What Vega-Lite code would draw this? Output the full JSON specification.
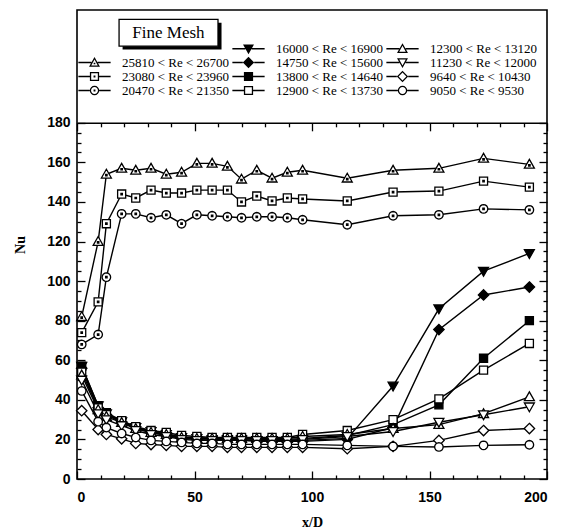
{
"$schema": "https://vega.github.io/schema/vega-lite/v6.json",
"width": 470, "height": 469,
"autosize": {"type": "none"},
"padding": {"left": 77, "top": 10, "right": 27, "bottom": 52},
"background": "white",
"config": {"view": {"stroke": "black", "strokeWidth": 1.6}, "axis": {"grid": false, "domain": false, "tickColor": "black", "tickWidth": 1.3, "labelColor": "black", "titleColor": "black"}},
"data": {"values": [
{"s":"25810 < Re < 26700","x":2,"nu":82},{"s":"25810 < Re < 26700","x":9,"nu":120},{"s":"25810 < Re < 26700","x":12.5,"nu":154},{"s":"25810 < Re < 26700","x":19,"nu":157},{"s":"25810 < Re < 26700","x":25,"nu":156},{"s":"25810 < Re < 26700","x":31.5,"nu":157},{"s":"25810 < Re < 26700","x":38,"nu":154},{"s":"25810 < Re < 26700","x":44.5,"nu":155},{"s":"25810 < Re < 26700","x":51,"nu":159.5},{"s":"25810 < Re < 26700","x":57.5,"nu":159.5},{"s":"25810 < Re < 26700","x":64,"nu":158},{"s":"25810 < Re < 26700","x":70,"nu":151.5},{"s":"25810 < Re < 26700","x":76.5,"nu":156},{"s":"25810 < Re < 26700","x":83,"nu":152},{"s":"25810 < Re < 26700","x":89.5,"nu":155},{"s":"25810 < Re < 26700","x":96,"nu":156},{"s":"25810 < Re < 26700","x":115,"nu":152},{"s":"25810 < Re < 26700","x":134.5,"nu":156},{"s":"25810 < Re < 26700","x":154,"nu":157},{"s":"25810 < Re < 26700","x":173,"nu":162},{"s":"25810 < Re < 26700","x":192.5,"nu":159},
{"s":"23080 < Re < 23960","x":2,"nu":74},{"s":"23080 < Re < 23960","x":9,"nu":89.5},{"s":"23080 < Re < 23960","x":12.5,"nu":129},{"s":"23080 < Re < 23960","x":19,"nu":144},{"s":"23080 < Re < 23960","x":25,"nu":142},{"s":"23080 < Re < 23960","x":31.5,"nu":146},{"s":"23080 < Re < 23960","x":38,"nu":144.5},{"s":"23080 < Re < 23960","x":44.5,"nu":144.5},{"s":"23080 < Re < 23960","x":51,"nu":146},{"s":"23080 < Re < 23960","x":57.5,"nu":146},{"s":"23080 < Re < 23960","x":64,"nu":146},{"s":"23080 < Re < 23960","x":70,"nu":140},{"s":"23080 < Re < 23960","x":76.5,"nu":143},{"s":"23080 < Re < 23960","x":83,"nu":140.5},{"s":"23080 < Re < 23960","x":89.5,"nu":142},{"s":"23080 < Re < 23960","x":96,"nu":141.5},{"s":"23080 < Re < 23960","x":115,"nu":140.5},{"s":"23080 < Re < 23960","x":134.5,"nu":145},{"s":"23080 < Re < 23960","x":154,"nu":145.5},{"s":"23080 < Re < 23960","x":173,"nu":150.5},{"s":"23080 < Re < 23960","x":192.5,"nu":147.5},
{"s":"20470 < Re < 21350","x":2,"nu":68},{"s":"20470 < Re < 21350","x":9,"nu":73},{"s":"20470 < Re < 21350","x":12.5,"nu":102},{"s":"20470 < Re < 21350","x":19,"nu":134},{"s":"20470 < Re < 21350","x":25,"nu":134},{"s":"20470 < Re < 21350","x":31.5,"nu":132},{"s":"20470 < Re < 21350","x":38,"nu":133.5},{"s":"20470 < Re < 21350","x":44.5,"nu":129},{"s":"20470 < Re < 21350","x":51,"nu":133.5},{"s":"20470 < Re < 21350","x":57.5,"nu":133},{"s":"20470 < Re < 21350","x":64,"nu":132.5},{"s":"20470 < Re < 21350","x":70,"nu":132},{"s":"20470 < Re < 21350","x":76.5,"nu":132.5},{"s":"20470 < Re < 21350","x":83,"nu":132.5},{"s":"20470 < Re < 21350","x":89.5,"nu":132},{"s":"20470 < Re < 21350","x":96,"nu":131},{"s":"20470 < Re < 21350","x":115,"nu":128.5},{"s":"20470 < Re < 21350","x":134.5,"nu":133},{"s":"20470 < Re < 21350","x":154,"nu":133.5},{"s":"20470 < Re < 21350","x":173,"nu":136.5},{"s":"20470 < Re < 21350","x":192.5,"nu":136},
{"s":"16000 < Re < 16900","x":2,"nu":57},{"s":"16000 < Re < 16900","x":9,"nu":37},{"s":"16000 < Re < 16900","x":12.5,"nu":33},{"s":"16000 < Re < 16900","x":19,"nu":29},{"s":"16000 < Re < 16900","x":25,"nu":26},{"s":"16000 < Re < 16900","x":31.5,"nu":24},{"s":"16000 < Re < 16900","x":38,"nu":22.5},{"s":"16000 < Re < 16900","x":44.5,"nu":21},{"s":"16000 < Re < 16900","x":51,"nu":20.5},{"s":"16000 < Re < 16900","x":57.5,"nu":20},{"s":"16000 < Re < 16900","x":64,"nu":20},{"s":"16000 < Re < 16900","x":70,"nu":20},{"s":"16000 < Re < 16900","x":76.5,"nu":19.5},{"s":"16000 < Re < 16900","x":83,"nu":19.5},{"s":"16000 < Re < 16900","x":89.5,"nu":19.5},{"s":"16000 < Re < 16900","x":96,"nu":19.5},{"s":"16000 < Re < 16900","x":115,"nu":20.5},{"s":"16000 < Re < 16900","x":134.5,"nu":47},{"s":"16000 < Re < 16900","x":154,"nu":86},{"s":"16000 < Re < 16900","x":173,"nu":105},{"s":"16000 < Re < 16900","x":192.5,"nu":114},
{"s":"14750 < Re < 15600","x":2,"nu":56},{"s":"14750 < Re < 15600","x":9,"nu":36},{"s":"14750 < Re < 15600","x":12.5,"nu":32.5},{"s":"14750 < Re < 15600","x":19,"nu":28.5},{"s":"14750 < Re < 15600","x":25,"nu":25.5},{"s":"14750 < Re < 15600","x":31.5,"nu":23.5},{"s":"14750 < Re < 15600","x":38,"nu":22},{"s":"14750 < Re < 15600","x":44.5,"nu":20.5},{"s":"14750 < Re < 15600","x":51,"nu":20},{"s":"14750 < Re < 15600","x":57.5,"nu":19.5},{"s":"14750 < Re < 15600","x":64,"nu":19.5},{"s":"14750 < Re < 15600","x":70,"nu":19.5},{"s":"14750 < Re < 15600","x":76.5,"nu":19},{"s":"14750 < Re < 15600","x":83,"nu":19},{"s":"14750 < Re < 15600","x":89.5,"nu":19},{"s":"14750 < Re < 15600","x":96,"nu":19},{"s":"14750 < Re < 15600","x":115,"nu":20},{"s":"14750 < Re < 15600","x":134.5,"nu":26},{"s":"14750 < Re < 15600","x":154,"nu":75.5},{"s":"14750 < Re < 15600","x":173,"nu":93},{"s":"14750 < Re < 15600","x":192.5,"nu":97},
{"s":"13800 < Re < 14640","x":2,"nu":57},{"s":"13800 < Re < 14640","x":9,"nu":37},{"s":"13800 < Re < 14640","x":12.5,"nu":33.5},{"s":"13800 < Re < 14640","x":19,"nu":29.5},{"s":"13800 < Re < 14640","x":25,"nu":26},{"s":"13800 < Re < 14640","x":31.5,"nu":24},{"s":"13800 < Re < 14640","x":38,"nu":23},{"s":"13800 < Re < 14640","x":44.5,"nu":21},{"s":"13800 < Re < 14640","x":51,"nu":21},{"s":"13800 < Re < 14640","x":57.5,"nu":20.5},{"s":"13800 < Re < 14640","x":64,"nu":20.5},{"s":"13800 < Re < 14640","x":70,"nu":20.5},{"s":"13800 < Re < 14640","x":76.5,"nu":20},{"s":"13800 < Re < 14640","x":83,"nu":20},{"s":"13800 < Re < 14640","x":89.5,"nu":20},{"s":"13800 < Re < 14640","x":96,"nu":20.5},{"s":"13800 < Re < 14640","x":115,"nu":22},{"s":"13800 < Re < 14640","x":134.5,"nu":27.5},{"s":"13800 < Re < 14640","x":154,"nu":37.5},{"s":"13800 < Re < 14640","x":173,"nu":61},{"s":"13800 < Re < 14640","x":192.5,"nu":80},
{"s":"12900 < Re < 13730","x":2,"nu":54},{"s":"12900 < Re < 13730","x":9,"nu":36},{"s":"12900 < Re < 13730","x":12.5,"nu":32.5},{"s":"12900 < Re < 13730","x":19,"nu":29.5},{"s":"12900 < Re < 13730","x":25,"nu":26.5},{"s":"12900 < Re < 13730","x":31.5,"nu":24.5},{"s":"12900 < Re < 13730","x":38,"nu":23.5},{"s":"12900 < Re < 13730","x":44.5,"nu":22},{"s":"12900 < Re < 13730","x":51,"nu":21.5},{"s":"12900 < Re < 13730","x":57.5,"nu":21},{"s":"12900 < Re < 13730","x":64,"nu":21},{"s":"12900 < Re < 13730","x":70,"nu":21},{"s":"12900 < Re < 13730","x":76.5,"nu":21},{"s":"12900 < Re < 13730","x":83,"nu":21},{"s":"12900 < Re < 13730","x":89.5,"nu":21},{"s":"12900 < Re < 13730","x":96,"nu":22.5},{"s":"12900 < Re < 13730","x":115,"nu":24.5},{"s":"12900 < Re < 13730","x":134.5,"nu":30},{"s":"12900 < Re < 13730","x":154,"nu":40.5},{"s":"12900 < Re < 13730","x":173,"nu":55},{"s":"12900 < Re < 13730","x":192.5,"nu":68.5},
{"s":"12300 < Re < 13120","x":2,"nu":52.5},{"s":"12300 < Re < 13120","x":9,"nu":35},{"s":"12300 < Re < 13120","x":12.5,"nu":31.5},{"s":"12300 < Re < 13120","x":19,"nu":28.5},{"s":"12300 < Re < 13120","x":25,"nu":25.5},{"s":"12300 < Re < 13120","x":31.5,"nu":23.5},{"s":"12300 < Re < 13120","x":38,"nu":22.5},{"s":"12300 < Re < 13120","x":44.5,"nu":21},{"s":"12300 < Re < 13120","x":51,"nu":20.5},{"s":"12300 < Re < 13120","x":57.5,"nu":20.5},{"s":"12300 < Re < 13120","x":64,"nu":20.5},{"s":"12300 < Re < 13120","x":70,"nu":20.5},{"s":"12300 < Re < 13120","x":76.5,"nu":20.5},{"s":"12300 < Re < 13120","x":83,"nu":20.5},{"s":"12300 < Re < 13120","x":89.5,"nu":20.5},{"s":"12300 < Re < 13120","x":96,"nu":21.5},{"s":"12300 < Re < 13120","x":115,"nu":22.5},{"s":"12300 < Re < 13120","x":134.5,"nu":25.5},{"s":"12300 < Re < 13120","x":154,"nu":27.5},{"s":"12300 < Re < 13120","x":173,"nu":33},{"s":"12300 < Re < 13120","x":192.5,"nu":41.5},
{"s":"11230 < Re < 12000","x":2,"nu":50},{"s":"11230 < Re < 12000","x":9,"nu":33},{"s":"11230 < Re < 12000","x":12.5,"nu":30},{"s":"11230 < Re < 12000","x":19,"nu":27},{"s":"11230 < Re < 12000","x":25,"nu":24.5},{"s":"11230 < Re < 12000","x":31.5,"nu":22.5},{"s":"11230 < Re < 12000","x":38,"nu":21.5},{"s":"11230 < Re < 12000","x":44.5,"nu":20},{"s":"11230 < Re < 12000","x":51,"nu":19.5},{"s":"11230 < Re < 12000","x":57.5,"nu":19.5},{"s":"11230 < Re < 12000","x":64,"nu":19.5},{"s":"11230 < Re < 12000","x":70,"nu":19.5},{"s":"11230 < Re < 12000","x":76.5,"nu":19.5},{"s":"11230 < Re < 12000","x":83,"nu":19.5},{"s":"11230 < Re < 12000","x":89.5,"nu":19.5},{"s":"11230 < Re < 12000","x":96,"nu":20},{"s":"11230 < Re < 12000","x":115,"nu":21.5},{"s":"11230 < Re < 12000","x":134.5,"nu":24},{"s":"11230 < Re < 12000","x":154,"nu":28.7},{"s":"11230 < Re < 12000","x":173,"nu":32.5},{"s":"11230 < Re < 12000","x":192.5,"nu":36.5},
{"s":"9640 < Re < 10430","x":2,"nu":34.5},{"s":"9640 < Re < 10430","x":9,"nu":25},{"s":"9640 < Re < 10430","x":12.5,"nu":22.5},{"s":"9640 < Re < 10430","x":19,"nu":20.3},{"s":"9640 < Re < 10430","x":25,"nu":18},{"s":"9640 < Re < 10430","x":31.5,"nu":17.4},{"s":"9640 < Re < 10430","x":38,"nu":17},{"s":"9640 < Re < 10430","x":44.5,"nu":16.5},{"s":"9640 < Re < 10430","x":51,"nu":16.5},{"s":"9640 < Re < 10430","x":57.5,"nu":16.5},{"s":"9640 < Re < 10430","x":64,"nu":16},{"s":"9640 < Re < 10430","x":70,"nu":16},{"s":"9640 < Re < 10430","x":76.5,"nu":16},{"s":"9640 < Re < 10430","x":83,"nu":16},{"s":"9640 < Re < 10430","x":89.5,"nu":16},{"s":"9640 < Re < 10430","x":96,"nu":16},{"s":"9640 < Re < 10430","x":115,"nu":15.3},{"s":"9640 < Re < 10430","x":134.5,"nu":16.5},{"s":"9640 < Re < 10430","x":154,"nu":19.5},{"s":"9640 < Re < 10430","x":173,"nu":24.5},{"s":"9640 < Re < 10430","x":192.5,"nu":25.5},
{"s":"9050 < Re < 9530","x":2,"nu":44.5},{"s":"9050 < Re < 9530","x":9,"nu":29},{"s":"9050 < Re < 9530","x":12.5,"nu":26},{"s":"9050 < Re < 9530","x":19,"nu":23},{"s":"9050 < Re < 9530","x":25,"nu":21},{"s":"9050 < Re < 9530","x":31.5,"nu":19.5},{"s":"9050 < Re < 9530","x":38,"nu":19},{"s":"9050 < Re < 9530","x":44.5,"nu":18.5},{"s":"9050 < Re < 9530","x":51,"nu":18},{"s":"9050 < Re < 9530","x":57.5,"nu":18},{"s":"9050 < Re < 9530","x":64,"nu":17.5},{"s":"9050 < Re < 9530","x":70,"nu":17.5},{"s":"9050 < Re < 9530","x":76.5,"nu":17.5},{"s":"9050 < Re < 9530","x":83,"nu":17.5},{"s":"9050 < Re < 9530","x":89.5,"nu":17.5},{"s":"9050 < Re < 9530","x":96,"nu":17.5},{"s":"9050 < Re < 9530","x":115,"nu":17},{"s":"9050 < Re < 9530","x":134.5,"nu":16.5},{"s":"9050 < Re < 9530","x":154,"nu":16.2},{"s":"9050 < Re < 9530","x":173,"nu":17},{"s":"9050 < Re < 9530","x":192.5,"nu":17.3}
]},
"layer": [
{
 "mark": {"type": "line", "stroke": "black", "strokeWidth": 1.4},
 "encoding": {
  "x": {"field": "x", "type": "quantitative", "scale": {"domain": [0, 200], "nice": false},
        "axis": {"orient": "bottom", "values": [0, 50, 100, 150, 200], "ticks": false, "domain": false, "labelFont": "Liberation Sans", "labelFontWeight": "bold", "labelFontSize": 14, "labelPadding": 11, "title": "x/D", "titleFont": "Liberation Serif", "titleFontWeight": "bold", "titleFontSize": 14, "titlePadding": 11}},
  "y": {"field": "nu", "type": "quantitative", "scale": {"domain": [0, 237], "nice": false},
        "axis": {"orient": "left", "values": [0, 20, 40, 60, 80, 100, 120, 140, 160, 180], "ticks": false, "domain": false, "labelFont": "Liberation Sans", "labelFontWeight": "bold", "labelFontSize": 14, "labelPadding": 7, "title": "Nu", "titleFont": "Liberation Serif", "titleFontWeight": "bold", "titleFontSize": 14, "titlePadding": 19}},
  "detail": {"field": "s", "type": "nominal"}
 }
},
{
 "mark": {"type": "point", "filled": true, "stroke": "black", "strokeWidth": 1.3, "opacity": 1, "size": 90},
 "encoding": {
  "x": {"field": "x", "type": "quantitative", "scale": {"domain": [0, 200], "nice": false},
        "axis": {"orient": "bottom", "values": [0, 50, 100, 150, 200], "tickSize": -8, "labels": false, "domain": false, "title": null}},
  "y": {"field": "nu", "type": "quantitative", "scale": {"domain": [0, 237], "nice": false},
        "axis": {"orient": "left", "values": [0, 20, 40, 60, 80, 100, 120, 140, 160, 180], "tickSize": -8, "labels": false, "domain": false, "title": null}},
  "shape": {"field": "s", "type": "nominal", "legend": null, "scale": {
    "domain": ["25810 < Re < 26700", "23080 < Re < 23960", "20470 < Re < 21350", "16000 < Re < 16900", "14750 < Re < 15600", "13800 < Re < 14640", "12900 < Re < 13730", "12300 < Re < 13120", "11230 < Re < 12000", "9640 < Re < 10430", "9050 < Re < 9530"],
    "range": [
     "M0,-1.05L1.05,0.8L-1.05,0.8ZM-0.15,0.05H0.15V0.35H-0.15Z",
     "M-0.85,-0.85H0.85V0.85H-0.85ZM-0.15,-0.15H0.15V0.15H-0.15Z",
     "M0.9,0L0.83,0.34L0.64,0.64L0.34,0.83L0,0.9L-0.34,0.83L-0.64,0.64L-0.83,0.34L-0.9,0L-0.83,-0.34L-0.64,-0.64L-0.34,-0.83L0,-0.9L0.34,-0.83L0.64,-0.64L0.83,-0.34ZM-0.15,-0.15H0.15V0.15H-0.15Z",
     "M0,1.05L1.05,-0.8L-1.05,-0.8Z",
     "M0,-1.1L1.1,0L0,1.1L-1.1,0Z",
     "M-0.85,-0.85H0.85V0.85H-0.85Z",
     "M-0.85,-0.85H0.85V0.85H-0.85Z",
     "M0,-1.05L1.05,0.8L-1.05,0.8Z",
     "M0,1.05L1.05,-0.8L-1.05,-0.8Z",
     "M0,-1.1L1.1,0L0,1.1L-1.1,0Z",
     "M0.9,0L0.83,0.34L0.64,0.64L0.34,0.83L0,0.9L-0.34,0.83L-0.64,0.64L-0.83,0.34L-0.9,0L-0.83,-0.34L-0.64,-0.64L-0.34,-0.83L0,-0.9L0.34,-0.83L0.64,-0.64L0.83,-0.34Z"
    ]}},
  "fill": {"field": "s", "type": "nominal", "legend": null, "scale": {
    "domain": ["25810 < Re < 26700", "23080 < Re < 23960", "20470 < Re < 21350", "16000 < Re < 16900", "14750 < Re < 15600", "13800 < Re < 14640", "12900 < Re < 13730", "12300 < Re < 13120", "11230 < Re < 12000", "9640 < Re < 10430", "9050 < Re < 9530"],
    "range": ["white", "white", "white", "black", "black", "black", "white", "white", "white", "white", "white"]}}
 }
},
{
 "transform": [{"filter": "false"}],
 "mark": {"type": "point", "filled": true, "opacity": 1, "size": 90},
 "encoding": {
  "x": {"field": "x", "type": "quantitative", "scale": {"domain": [0, 200], "nice": false},
        "axis": {"orient": "bottom", "values": [10, 20, 30, 40, 60, 70, 80, 90, 110, 120, 130, 140, 160, 170, 180, 190], "tickSize": -4, "labels": false, "domain": false, "title": null}},
  "y": {"field": "nu", "type": "quantitative", "scale": {"domain": [0, 237], "nice": false},
        "axis": {"orient": "left", "values": [5, 10, 15, 25, 30, 35, 45, 50, 55, 65, 70, 75, 85, 90, 95, 105, 110, 115, 125, 130, 135, 145, 150, 155, 165, 170, 175], "tickSize": -4, "labels": false, "domain": false, "title": null}},
  "shape": {"field": "s", "type": "nominal",
    "legend": {"title": null, "orient": "none", "legendX": 11, "legendY": 32, "columns": 3, "columnPadding": 2, "rowPadding": 0, "symbolSize": 90, "symbolStrokeWidth": 0, "symbolOpacity": 1, "labelFont": "Liberation Serif", "labelFontSize": 13, "labelColor": "black", "labelOffset": 21, "labelLimit": 0, "padding": 0, "offset": 0},
    "scale": {
    "domain": [" ", "25810 < Re < 26700", "23080 < Re < 23960", "20470 < Re < 21350", "16000 < Re < 16900", "14750 < Re < 15600", "13800 < Re < 14640", "12900 < Re < 13730", "12300 < Re < 13120", "11230 < Re < 12000", "9640 < Re < 10430", "9050 < Re < 9530"],
    "range": [
     "M0,0L0,0",
     "M-3.4,-0.17H-0.66V0.17H-3.4ZM0.66,-0.17H3.4V0.17H0.66ZM0,-1.155L1.155,0.88L-1.155,0.88ZM0,-0.608L-0.691,0.609L0.691,0.609ZM-0.18,0.03H0.18V0.39H-0.18Z",
     "M-3.4,-0.17H-0.97V0.17H-3.4ZM0.97,-0.17H3.4V0.17H0.97ZM-0.97,-0.97H0.97V0.97H-0.97ZM-0.7,-0.7V0.7H0.7V-0.7ZM-0.2,-0.2H0.2V0.2H-0.2Z",
     "M-3.4,-0.17H-1V0.17H-3.4ZM1,-0.17H3.4V0.17H1ZM1,0L0.924,0.383L0.707,0.707L0.383,0.924L0,1L-0.383,0.924L-0.707,0.707L-0.924,0.383L-1,0L-0.924,-0.383L-0.707,-0.707L-0.383,-0.924L0,-1L0.383,-0.924L0.707,-0.707L0.924,-0.383ZM0.73,0L0.674,-0.279L0.516,-0.516L0.279,-0.674L0,-0.73L-0.279,-0.674L-0.516,-0.516L-0.674,-0.279L-0.73,0L-0.674,0.279L-0.516,0.516L-0.279,0.674L0,0.73L0.279,0.674L0.516,0.516L0.674,0.279ZM-0.2,-0.2H0.2V0.2H-0.2Z",
     "M-3.4,-0.17V0.17H-0.66V-0.17ZM0.66,-0.17V0.17H3.4V-0.17ZM0,1.155L1.155,-0.88L-1.155,-0.88Z",
     "M-3.4,-0.17H-1.2V0.17H-3.4ZM1.2,-0.17H3.4V0.17H1.2ZM0,-1.2L1.2,0L0,1.2L-1.2,0Z",
     "M-3.4,-0.17H-0.97V0.17H-3.4ZM0.97,-0.17H3.4V0.17H0.97ZM-0.97,-0.97H0.97V0.97H-0.97Z",
     "M-3.4,-0.17H-0.97V0.17H-3.4ZM0.97,-0.17H3.4V0.17H0.97ZM-0.97,-0.97H0.97V0.97H-0.97ZM-0.7,-0.7V0.7H0.7V-0.7Z",
     "M-3.4,-0.17H-0.66V0.17H-3.4ZM0.66,-0.17H3.4V0.17H0.66ZM0,-1.155L1.155,0.88L-1.155,0.88ZM0,-0.608L-0.691,0.609L0.691,0.609Z",
     "M-3.4,-0.17V0.17H-0.66V-0.17ZM0.66,-0.17V0.17H3.4V-0.17ZM0,1.155L1.155,-0.88L-1.155,-0.88ZM0,0.608L-0.691,-0.609L0.691,-0.609Z",
     "M-3.4,-0.17H-1.2V0.17H-3.4ZM1.2,-0.17H3.4V0.17H1.2ZM0,-1.2L1.2,0L0,1.2L-1.2,0ZM0,-0.82L-0.82,0L0,0.82L0.82,0Z",
     "M-3.4,-0.17H-1V0.17H-3.4ZM1,-0.17H3.4V0.17H1ZM1,0L0.924,0.383L0.707,0.707L0.383,0.924L0,1L-0.383,0.924L-0.707,0.707L-0.924,0.383L-1,0L-0.924,-0.383L-0.707,-0.707L-0.383,-0.924L0,-1L0.383,-0.924L0.707,-0.707L0.924,-0.383ZM0.73,0L0.674,-0.279L0.516,-0.516L0.279,-0.674L0,-0.73L-0.279,-0.674L-0.516,-0.516L-0.674,-0.279L-0.73,0L-0.674,0.279L-0.516,0.516L-0.279,0.674L0,0.73L0.279,0.674L0.516,0.516L0.674,0.279Z"
    ]}},
  "fill": {"field": "s", "type": "nominal", "scale": {
    "domain": [" ", "25810 < Re < 26700", "23080 < Re < 23960", "20470 < Re < 21350", "16000 < Re < 16900", "14750 < Re < 15600", "13800 < Re < 14640", "12900 < Re < 13730", "12300 < Re < 13120", "11230 < Re < 12000", "9640 < Re < 10430", "9050 < Re < 9530"],
    "range": ["black", "black", "black", "black", "black", "black", "black", "black", "black", "black", "black", "black"]}}
 }
},
{
 "data": {"values": [{"k": 1}]},
 "mark": {"type": "rect", "fill": "black"},
 "encoding": {
  "x": {"datum": 19.4, "type": "quantitative", "scale": {"domain": [0, 200], "nice": false},
        "axis": {"orient": "top", "offset": -112.8, "values": [0, 50, 100, 150, 200], "tickSize": -8, "labels": false, "domain": true, "domainColor": "black", "domainWidth": 1.6, "title": null}},
  "x2": {"datum": 61.5},
  "y": {"datum": 230.6, "type": "quantitative", "scale": {"domain": [0, 237], "nice": false},
        "axis": {"orient": "right", "values": [0, 20, 40, 60, 80, 100, 120, 140, 160, 180], "tickSize": -8, "labels": false, "domain": false, "title": null}},
  "y2": {"datum": 217.0}
 }
},
{
 "data": {"values": [{"k": 1}]},
 "mark": {"type": "rect", "fill": "white", "stroke": "black", "strokeWidth": 1.3},
 "encoding": {
  "x": {"datum": 17.9, "type": "quantitative", "scale": {"domain": [0, 200], "nice": false},
        "axis": {"orient": "top", "offset": -112.8, "values": [10, 20, 30, 40, 60, 70, 80, 90, 110, 120, 130, 140, 160, 170, 180, 190], "tickSize": -4, "labels": false, "domain": false, "title": null}},
  "x2": {"datum": 60.0},
  "y": {"datum": 232.3, "type": "quantitative", "scale": {"domain": [0, 237], "nice": false},
        "axis": {"orient": "right", "values": [5, 10, 15, 25, 30, 35, 45, 50, 55, 65, 70, 75, 85, 90, 95, 105, 110, 115, 125, 130, 135, 145, 150, 155, 165, 170, 175], "tickSize": -4, "labels": false, "domain": false, "title": null}},
  "y2": {"datum": 218.7}
 }
},
{
 "data": {"values": [{"label": "Fine Mesh"}]},
 "mark": {"type": "text", "font": "Liberation Serif", "fontSize": 17, "color": "black", "align": "center", "baseline": "middle"},
 "encoding": {
  "x": {"datum": 38.9, "type": "quantitative", "scale": {"domain": [0, 200], "nice": false}, "axis": null},
  "y": {"datum": 225.5, "type": "quantitative", "scale": {"domain": [0, 237], "nice": false}, "axis": null},
  "text": {"field": "label", "type": "nominal"}
 }
}
],
"resolve": {"scale": {"shape": "independent", "fill": "independent"}, "axis": {"x": "independent", "y": "independent"}}
}
